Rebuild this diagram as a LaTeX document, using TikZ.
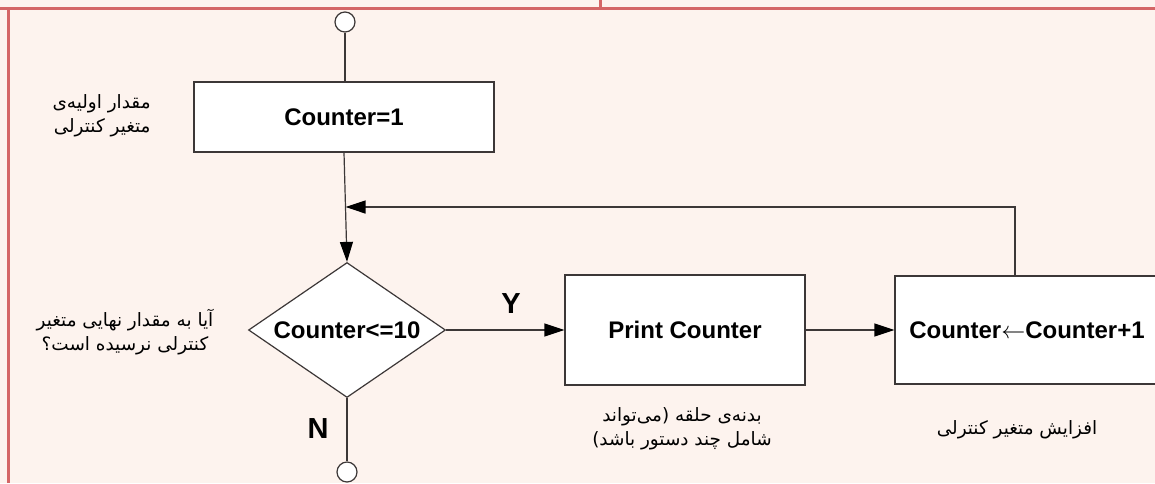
\documentclass[tikz,border=0pt]{standalone}
\usepackage{fontspec}
\setmainfont{Liberation Sans}
\newfontfamily\fafont[Script=Arabic]{DejaVu Sans}
\TeXXeTstate=1
\usetikzlibrary{shapes.geometric,arrows.meta}
\definecolor{bgpink}{RGB}{253,243,238}
\definecolor{framered}{RGB}{212,102,102}
\definecolor{edgegray}{RGB}{60,55,55}

\begin{document}
\begin{tikzpicture}[x=0.5pt,y=-0.5pt]
    \tikzstyle{blk} = [shape=rectangle, draw=edgegray, fill=white, line width=0.6pt, inner sep=0pt, font=\fontsize{12}{14}\selectfont\bfseries]
    \tikzstyle{cond} = [shape=diamond, draw=edgegray, fill=white, line width=0.6pt, inner sep=0pt, aspect=1.46, minimum width=98.5pt, minimum height=67.5pt, font=\fontsize{12}{14}\selectfont\bfseries]
    \tikzstyle{term} = [shape=circle, draw=edgegray, fill=white, line width=0.6pt, inner sep=0pt, minimum size=10pt]
    \tikzstyle{note} = [inner sep=0pt, font=\fafont\fontsize{9.2}{11.8}\selectfont]
    \tikzstyle{yn} = [inner sep=0pt, font=\fontsize{14.5}{16}\selectfont\bfseries]
    \tikzstyle{line} = [draw=edgegray, line width=0.6pt]
    \tikzstyle{arr} = [line, -{Triangle[length=10pt,width=6.5pt,fill=black,color=black]}]

    % 背景与外框
    \clip (0,0) rectangle (1155,483);
    \fill [bgpink] (0,0) rectangle (1155,483);
    \draw [framered, line width=1.2pt] (0,8.5) -- (1155,8.5);
    \draw [framered, line width=1.2pt] (8.5,8.5) -- (8.5,483);
    \draw [framered, line width=1.2pt] (600.5,0) -- (600.5,8.5);

    % 流程节点
    \node (start) [term] at (345,22) {};
    \node (init) [blk, minimum width=150pt, minimum height=35pt] at (344,117) {Counter=1};
    \node (test) [cond] at (347,330) {Counter<=10};
    \node (body) [blk, minimum width=120pt, minimum height=55pt] at (685,330) {Print Counter};
    \node (incr) [blk, minimum width=132pt, minimum height=54pt] at (1027,330) {Counter$\leftarrow$Counter+1};
    \node (stop) [term] at (347,472) {};
    \coordinate (join) at (345.5,207);
    \coordinate (back) at (1015,207);

    % 连线
    \draw [line] (start.south) -- (start.south |- init.north);
    \draw [arr] (init.south) -- (test.north);
    \draw [arr] (test.east) -- (body.west);
    \draw [arr] (body.east) -- (incr.west);
    \draw [arr] (back |- incr.north) -- (back) -- (join);
    \draw [line] (test.south) -- (stop.north);

    % 分支标记
    \node (yes) [yn] at (511,304) {Y};
    \node (no) [yn] at (318,429) {N};

    % 说明文字
    \node (initnote) [note, align=right, anchor=east] at (151,116) {\beginR مقدار اولیه‌ی\endR\\\beginR متغیر کنترلی\endR};
    \node (testnote) [note, align=center] at (125,332) {\beginR آیا به مقدار نهایی متغیر\endR\\\beginR کنترلی نرسیده است؟\endR};
    \node (bodynote) [note, align=center] at (682,429) {\beginR بدنه‌ی حلقه (می‌تواند\endR\\\beginR شامل چند دستور باشد)\endR};
    \node (incrnote) [note] at (1017,430) {\beginR افزایش متغیر کنترلی\endR};
\end{tikzpicture}
\end{document}
